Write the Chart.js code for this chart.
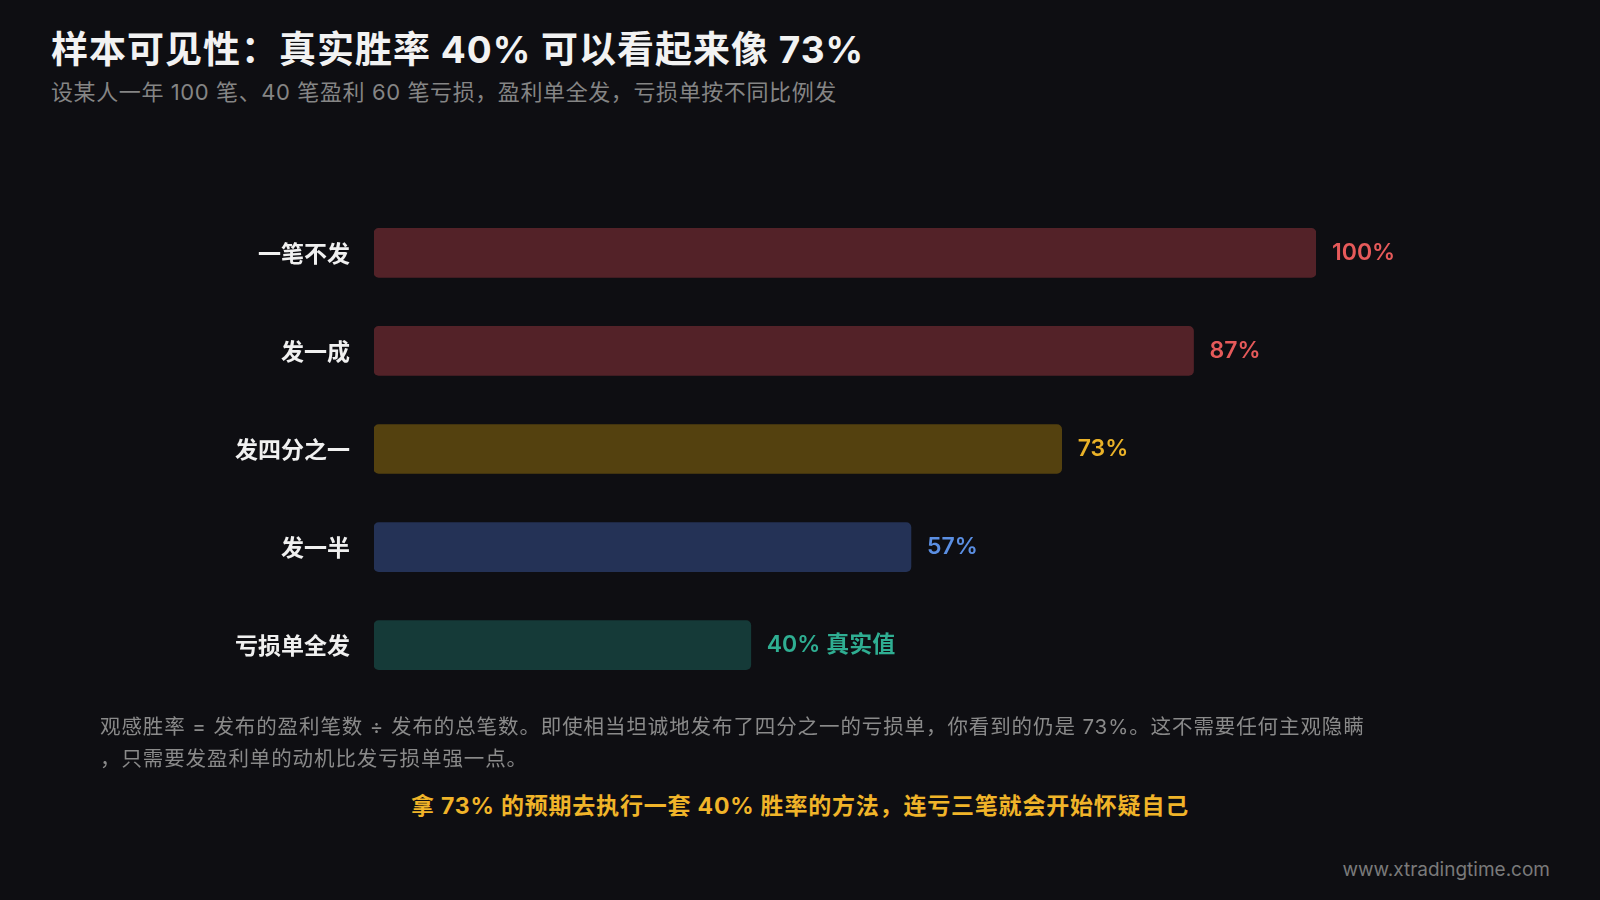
<!DOCTYPE html>
<html><head><meta charset="utf-8">
<script src="https://cdn.jsdelivr.net/npm/chart.js@4"></script>
<style>
body{margin:0;width:1600px;height:900px;background:#0e0e12;overflow:hidden;font-family:Inter,"Noto Sans CJK SC",sans-serif;position:relative}
.t{position:absolute;white-space:nowrap}
#wrap{position:absolute;left:0;top:174px;width:1600px;height:550px}
</style></head><body>
<div class="t" style="left:51px;top:20px;font-size:37px;font-weight:700;color:#f2f2f2;letter-spacing:1px">样本可见性：真实胜率 40% 可以看起来像 73%</div>
<div class="t" style="left:51px;top:74px;font-size:22px;color:#858585;letter-spacing:0.6px">设某人一年 100 笔、40 笔盈利 60 笔亏损，盈利单全发，亏损单按不同比例发</div>
<div id="wrap"><canvas id="c"></canvas></div>
<div class="t" style="left:100px;top:711px;font-size:20.5px;color:#8a8a8a;line-height:32px;letter-spacing:0.9px">观感胜率 = 发布的盈利笔数 ÷ 发布的总笔数。即使相当坦诚地发布了四分之一的亏损单，你看到的仍是 73%。这不需要任何主观隐瞒<br>，只需要发盈利单的动机比发亏损单强一点。</div>
<div class="t" style="left:0;width:1600px;text-align:center;top:787px;font-size:23px;font-weight:700;color:#f0b429;letter-spacing:0.8px">拿 73% 的预期去执行一套 40% 胜率的方法，连亏三笔就会开始怀疑自己</div>
<div class="t" style="right:50px;top:858px;font-size:19px;color:#7a7a7a">www.xtradingtime.com</div>
<script>
const categories=["一笔不发","发一成","发四分之一","发一半","亏损单全发"];
const values=[100,87,73,57,40];
const labels=["100%","87%","73%","57%","40% 真实值"];
const barColors=["#532228","#532228","#54410f","#243256","#153a38"];
const labelColors=["#e65a5a","#e65a5a","#eab228","#5b8fe3","#2fae92"];
const lbl={id:'lbl',afterDatasetsDraw(ch){const ctx=ch.ctx;ch.getDatasetMeta(0).data.forEach((b,i)=>{ctx.save();ctx.font='600 23px Inter, "Noto Sans CJK SC"';ctx.fillStyle=labelColors[i];ctx.textBaseline='middle';ctx.fillText(labels[i],b.x+16,b.y);ctx.restore();});}};
new Chart(document.getElementById('c'),{type:'bar',data:{labels:categories,datasets:[{data:values,backgroundColor:barColors,barThickness:49,borderRadius:5,borderSkipped:false}]},
options:{indexAxis:'y',responsive:true,maintainAspectRatio:false,animation:false,layout:{padding:{left:0,right:284,top:0,bottom:0}},
plugins:{legend:{display:false},tooltip:{enabled:false}},
scales:{x:{display:false,min:0,max:100},y:{afterFit(s){s.width=374},grid:{display:false},border:{display:false},ticks:{padding:16,color:'#f0f0f0',font:{size:23,weight:'700',family:'"Noto Sans CJK SC"'}}}}},plugins:[lbl]});
</script></body></html>
